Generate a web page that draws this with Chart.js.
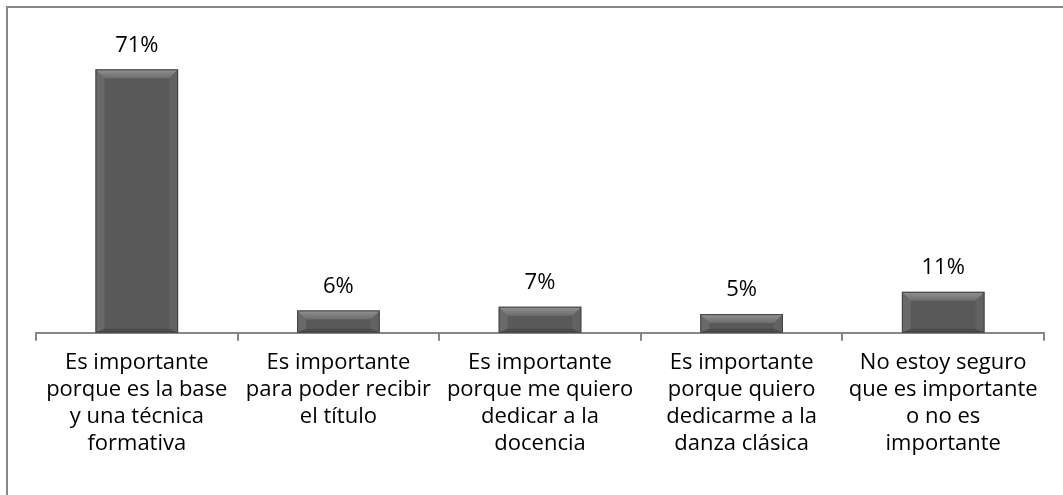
<!DOCTYPE html>
<html>
<head>
<meta charset="utf-8">
<script src="https://cdn.jsdelivr.net/npm/chart.js@4"></script>
<style>
  html, body { margin: 0; padding: 0; background: #fff; }
  #frame {
    position: absolute; left: 6px; top: 6px; width: 1100px; height: 520px;
    border-left: 2px solid #878787; border-top: 2px solid #878787;
  }
  #wrap { position: absolute; left: 0; top: 0; width: 1063px; height: 495px; }
</style>
</head>
<body>
<div id="frame"></div>
<div id="wrap"><canvas id="barChart" width="1063" height="495"></canvas></div>
<script>
// categorías y valores (%)
const categorias = [
    ["Es importante", "porque es la base", "y una técnica", "formativa"],
    ["Es importante", "para poder recibir", "el título"],
    ["Es importante", "porque me quiero", "dedicar a la", "docencia"],
    ["Es importante", "porque quiero", "dedicarme a la", "danza clásica"],
    ["No estoy seguro", "que es importante", "o no es", "importante"]
];
const valores = [71, 6, 7, 5, 11];
const etiquetas = ["71%", "6%", "7%", "5%", "11%"];

const FUENTE = "'Open Sans', 'Noto Sans', sans-serif";

// bisel de las barras + etiqueta de porcentaje
const bevelPlugin = {
    id: 'bevel',
    afterDatasetsDraw(chart) {
        const ctx = chart.ctx;
        const meta = chart.getDatasetMeta(0);
        meta.data.forEach((bar, i) => {
            const left = bar.x - bar.width / 2;
            const right = bar.x + bar.width / 2;
            const top = bar.y;
            const bottom = bar.base;
            const b = Math.min(9, (bottom - top) / 2);
            const bb = Math.min(4, (bottom - top) / 4);
            ctx.save();
            // lado superior claro
            const g = ctx.createLinearGradient(0, top, 0, top + b);
            g.addColorStop(0, 'rgba(255,255,255,0.35)');
            g.addColorStop(1, 'rgba(255,255,255,0.12)');
            ctx.fillStyle = g;
            ctx.beginPath();
            ctx.moveTo(left, top); ctx.lineTo(right, top);
            ctx.lineTo(right - b, top + b); ctx.lineTo(left + b, top + b);
            ctx.closePath(); ctx.fill();
            // lados
            ctx.fillStyle = 'rgba(255,255,255,0.10)';
            ctx.beginPath();
            ctx.moveTo(left, top); ctx.lineTo(left + b, top + b);
            ctx.lineTo(left + b, bottom - bb); ctx.lineTo(left, bottom);
            ctx.closePath(); ctx.fill();
            ctx.fillStyle = 'rgba(255,255,255,0.06)';
            ctx.beginPath();
            ctx.moveTo(right, top); ctx.lineTo(right - b, top + b);
            ctx.lineTo(right - b, bottom - bb); ctx.lineTo(right, bottom);
            ctx.closePath(); ctx.fill();
            // inferior
            ctx.fillStyle = 'rgba(0,0,0,0.15)';
            ctx.beginPath();
            ctx.moveTo(left, bottom); ctx.lineTo(right, bottom);
            ctx.lineTo(right - b, bottom - bb); ctx.lineTo(left + b, bottom - bb);
            ctx.closePath(); ctx.fill();
            ctx.strokeStyle = '#404040';
            ctx.lineWidth = 1;
            ctx.strokeRect(left + 0.5, top + 0.5, bar.width - 1, bottom - top - 1);
            // etiqueta
            ctx.fillStyle = '#000';
            ctx.font = '22px ' + FUENTE;
            ctx.textAlign = 'center';
            ctx.textBaseline = 'middle';
            ctx.fillText(etiquetas[i], bar.x, top - 24);
            ctx.restore();
        });
    }
};

const ctx = document.getElementById('barChart').getContext('2d');
window.myChart = new Chart(ctx, {
    type: 'bar',
    data: {
        labels: categorias,
        datasets: [{
            data: valores,
            backgroundColor: '#595959',
            borderWidth: 0,
            categoryPercentage: 1.0,
            barPercentage: 0.41
        }]
    },
    options: {
        responsive: false,
        animation: false,
        events: [],
        layout: { padding: { left: 36, right: 19, top: 36, bottom: 29 } },
        plugins: {
            legend: { display: false },
            tooltip: { enabled: false }
        },
        scales: {
            y: { display: false, min: 0, max: 80 },
            x: {
                grid: {
                    display: true,
                    drawOnChartArea: false,
                    drawTicks: true,
                    tickLength: 8,
                    color: '#868686',
                    lineWidth: 2
                },
                border: { display: true, color: '#868686', width: 2 },
                ticks: {
                    color: '#000',
                    autoSkip: false,
                    maxRotation: 0,
                    padding: 9,
                    font: { family: FUENTE, size: 22, lineHeight: 1.22 }
                }
            }
        }
    },
    plugins: [bevelPlugin]
});
</script>
</body>
</html>
